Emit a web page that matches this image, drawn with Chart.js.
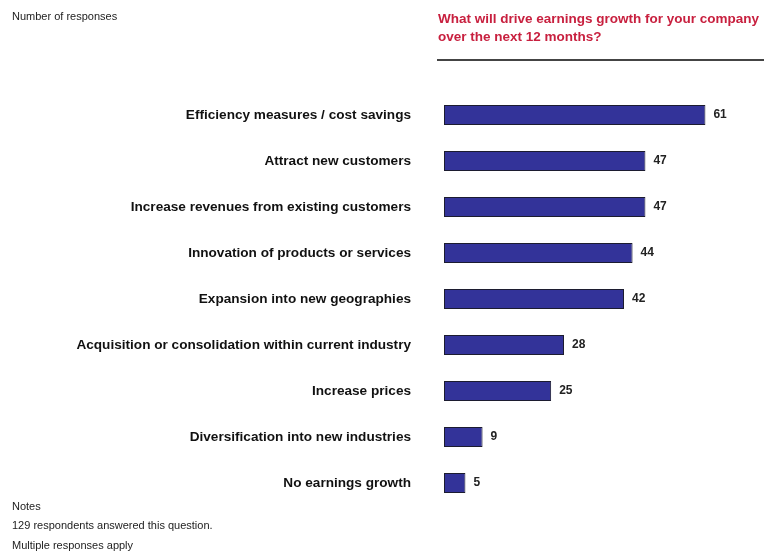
<!DOCTYPE html>
<html>
<head>
<meta charset="utf-8">
<script src="https://cdn.jsdelivr.net/npm/chart.js@4"></script>
<style>
  body { margin: 0; background: #fff; font-family: "Liberation Sans", Arial, sans-serif; }
  #wrap { position: relative; width: 764px; height: 554px; }
  #myChart { position: absolute; left: 0; top: 0; }
  .txt { position: absolute; font-size: 11px; color: #222; white-space: nowrap; }
  #title { position: absolute; left: 438px; top: 10px; font-size: 13.5px; font-weight: bold; color: #C8203F; line-height: 18px; white-space: nowrap; }
  #rule { position: absolute; left: 437px; top: 59px; width: 327px; height: 0; border-top: 2px solid #444; }
</style>
</head>
<body>
<div id="wrap">
  <canvas id="myChart" width="764" height="554"></canvas>
  <div class="txt" style="left:12px; top:10px;">Number of responses</div>
  <div id="title">What will drive earnings growth for your company<br>over the next 12 months?</div>
  <div id="rule"></div>
  <div class="txt" style="left:12px; top:500px;">Notes</div>
  <div class="txt" style="left:12px; top:519px;">129 respondents answered this question.</div>
  <div class="txt" style="left:12px; top:539px;">Multiple responses apply</div>
</div>
<script>
// respuestas por motivo
const categorias = [
    'Efficiency measures / cost savings',
    'Attract new customers',
    'Increase revenues from existing customers',
    'Innovation of products or services',
    'Expansion into new geographies',
    'Acquisition or consolidation within current industry',
    'Increase prices',
    'Diversification into new industries',
    'No earnings growth'
];
const respuestas = [61, 47, 47, 44, 42, 28, 25, 9, 5];

// etiquetas de valor al final de cada barra
const etiquetasValor = {
    id: 'etiquetasValor',
    afterDatasetsDraw(chart) {
        const ctx = chart.ctx;
        const meta = chart.getDatasetMeta(0);
        ctx.save();
        ctx.font = 'bold 12px "Liberation Sans", Arial, sans-serif';
        ctx.fillStyle = '#222';
        ctx.textBaseline = 'middle';
        meta.data.forEach((bar, i) => {
            ctx.fillText(respuestas[i], bar.x + 8, bar.y);
        });
        ctx.restore();
    }
};

const ctx = document.getElementById('myChart');

const myChart = new Chart(ctx, {
    type: 'bar',
    data: {
        labels: categorias,
        datasets: [{
            label: 'Number of responses',
            data: respuestas,
            backgroundColor: '#333399',
            borderColor: '#1c1c30',
            borderWidth: 1,
            borderSkipped: false,
            barPercentage: 0.44,
            categoryPercentage: 1
        }]
    },
    options: {
        indexAxis: 'y',
        responsive: false,
        animation: false,
        layout: { padding: { top: 92, bottom: 48, left: 0, right: 20 } },
        plugins: {
            legend: { display: false },
            tooltip: { enabled: false }
        },
        scales: {
            x: {
                min: 0,
                max: 70,
                display: false
            },
            y: {
                grid: { display: false },
                border: { display: false },
                afterFit(scale) { scale.width = 444; },
                ticks: {
                    padding: 25,
                    color: '#111',
                    font: { family: '"Liberation Sans", Arial, sans-serif', size: 13.6, weight: 'bold' }
                }
            }
        }
    },
    plugins: [etiquetasValor]
});
</script>
</body>
</html>
